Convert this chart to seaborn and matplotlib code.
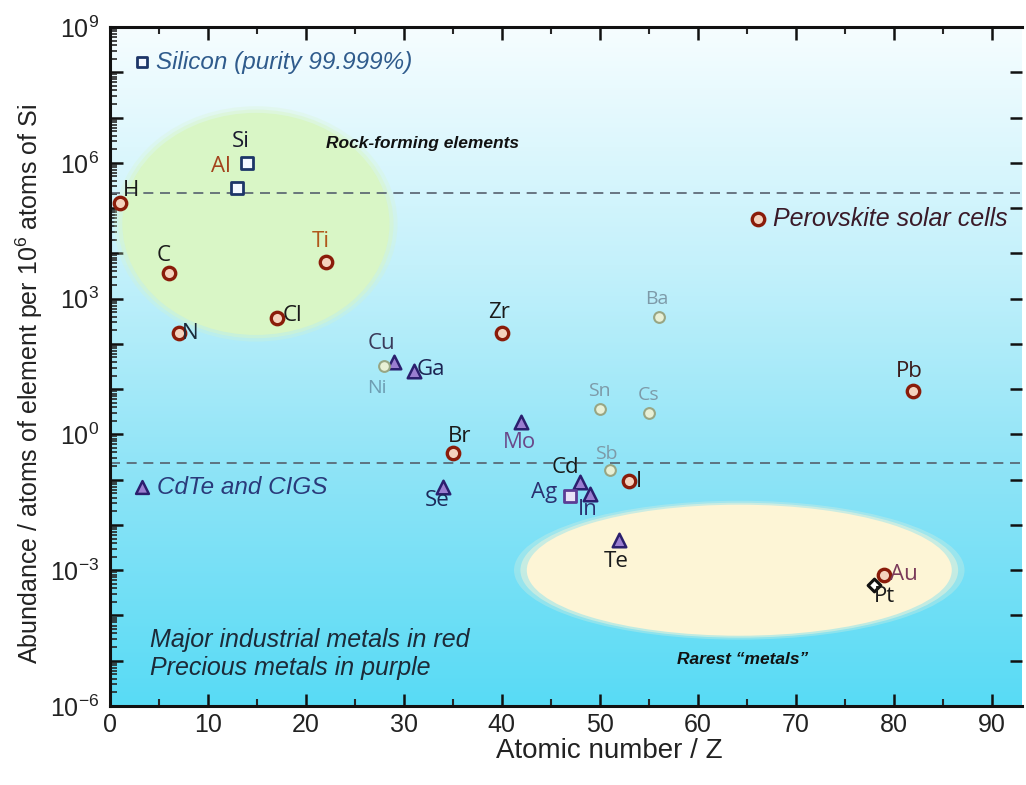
import numpy as np
import pandas as pd
import matplotlib
matplotlib.use("Agg")
import matplotlib.pyplot as plt
import seaborn as sns
from matplotlib.patches import Ellipse
from matplotlib.colors import LinearSegmentedColormap
from matplotlib.ticker import LogLocator, FuncFormatter, MultipleLocator

# ---------------- data ----------------
elements = ["H", "C", "N", "Al", "Si", "Cl", "Ti", "Ni", "Cu", "Ga", "Se", "Br", "Zr",
            "Mo", "Ag", "Cd", "In", "Sn", "Sb", "Te", "I", "Cs", "Ba", "Pt", "Au", "Pb"]
atomic_number = [1, 6, 7, 13, 14, 17, 22, 28, 29, 31, 34, 35, 40,
                 42, 47, 48, 49, 50, 51, 52, 53, 55, 56, 78, 79, 82]
abundance = [1.3e5, 3.6e3, 1.7e2, 2.8e5, 1.0e6, 3.8e2, 6.6e3, 32, 40, 25, 0.07, 0.38, 175,
             1.9, 0.043, 0.091, 0.048, 3.7, 0.16, 0.0047, 0.092, 2.9, 400, 4.7e-4, 8.0e-4, 8.9]
group = ["industrial", "industrial", "industrial", "square", "square", "industrial", "industrial",
         "faint", "pv", "pv", "pv", "industrial", "industrial",
         "pv", "ag", "pv", "pv", "faint", "faint", "pv", "industrial", "faint", "faint",
         "pt", "industrial", "industrial"]

reference_lines = [2.2e5, 0.23]

df = pd.DataFrame({"element": elements, "Z": atomic_number,
                   "abundance": abundance, "group": group})

# ---------------- styles ----------------
marker_styles = {
    "industrial": dict(marker="o", s=80, color="#f4d2bd", edgecolor="#8a1c0a", linewidth=2.4),
    "pv": dict(marker="^", s=95, color="#9a7ed0", edgecolor="#2b1f6e", linewidth=1.8),
    "square": dict(marker="s", s=80, color="#f4f8ff", edgecolor="#1d3568", linewidth=2.0),
    "ag": dict(marker="s", s=75, color="#e9e2f7", edgecolor="#5b3d95", linewidth=2.0),
    "faint": dict(marker="o", s=60, color="#e9f0d6", edgecolor="#98a684", linewidth=1.5),
    "pt": dict(marker="D", s=42, color="#ffffff", edgecolor="#111111", linewidth=2.2),
}

label_style = {  # element: (dx px, dy px, colour)
    "H": (11, 12, "#1a1a1a"), "C": (-5, 18, "#1a1a1a"), "N": (12, 0, "#1a2a3a"),
    "Al": (-16, 21, "#a3421c"), "Si": (-6, 21, "#1a1a2e"), "Cl": (16, 2, "#1a1a1a"),
    "Ti": (-5, 20, "#b0581c"), "Ni": (-7, -22, "#6e9db2"), "Cu": (-13, 18, "#3a3a5a"),
    "Ga": (17, 2, "#1c2452"), "Se": (-6, -14, "#1c2a5a"), "Br": (7, 17, "#1a1a1a"),
    "Zr": (-3, 20, "#1a1a1a"), "Mo": (-2, -21, "#6a4a8a"), "Ag": (-26, 4, "#2a3070"),
    "Cd": (-15, 14, "#1a1a1a"), "In": (-2, -15, "#2a3070"), "Sn": (0, 18, "#7d9aa8"),
    "Sb": (-3, 16, "#7d9aa8"), "Te": (-3, -22, "#1a1a1a"), "I": (10, 0, "#1a1a1a"),
    "Cs": (0, 18, "#7d9aa8"), "Ba": (-2, 18, "#7d9aa8"), "Pt": (10, -11, "#1a1a1a"),
    "Au": (20, 0, "#7a3a5a"), "Pb": (-4, 20, "#3a1a1a"),
}

sns.set_theme(style="ticks")
plt.rcParams["font.family"] = ["Liberation Sans Narrow", "Liberation Sans", "DejaVu Sans"]
plt.rcParams["mathtext.fontset"] = "custom"
plt.rcParams["mathtext.rm"] = "Liberation Sans"
plt.rcParams["mathtext.it"] = "Liberation Sans:italic"
plt.rcParams["mathtext.default"] = "regular"

fig = plt.figure(figsize=(10.26, 7.85), dpi=100)
fig.patch.set_facecolor("white")
ax = fig.add_axes([110 / 1026, 79 / 785, 912 / 1026, 679 / 785])

# background gradient
grad = np.linspace(0, 1, 256)[:, None]
cmap = LinearSegmentedColormap.from_list(
    "bg", [(0.0, "#58dbf5"), (0.35, "#8fe4f7"), (0.65, "#c4f1fb"), (1.0, "#f6fdff")])
ax.imshow(grad, aspect="auto", cmap=cmap, extent=[0, 1, 0, 1], origin="lower",
          transform=ax.transAxes, zorder=0, interpolation="bicubic")

# soft ellipses
for scale, alpha in [(1.06, 0.25), (1.03, 0.45), (1.0, 1.0)]:
    ax.add_patch(Ellipse((0.160, 0.710), 0.293 * scale, 0.327 * scale, transform=ax.transAxes,
                         facecolor="#d9f6c6", edgecolor="none", alpha=alpha, zorder=1))
    ax.add_patch(Ellipse((0.690, 0.200), 0.466 * scale, 0.193 * scale, transform=ax.transAxes,
                         facecolor="#fdf5d6", edgecolor="none", alpha=alpha, zorder=1))

# reference dashed lines
for yv in reference_lines:
    ax.axhline(yv, color="#55606e", lw=1.2, ls=(0, (6, 4)), zorder=2)

# scatter markers
for g, st in marker_styles.items():
    sub = df[df["group"] == g]
    sns.scatterplot(data=sub, x="Z", y="abundance", ax=ax, legend=False, zorder=4, **st)

ax.set_yscale("log")
ax.set_xlim(0, 93.1)
ax.set_ylim(1e-6, 1e9)

# element labels
for el, zz, ab, gg in zip(elements, atomic_number, abundance, group):
    dx, dy, col = label_style[el]
    fs = 14 if gg == "faint" else 16
    ax.annotate(el, xy=(zz, ab), xytext=(dx, dy), textcoords="offset pixels",
                ha="center", va="center", fontsize=fs, color=col, zorder=5,
                family=["Open Sans", "DejaVu Sans"])

# legend-like annotations
txt_font = ["Liberation Sans", "DejaVu Sans"]
ax.scatter([0.035], [0.948], transform=ax.transAxes, marker="s", s=60, color="#f4f8ff",
           edgecolor="#1d3568", linewidth=2.0, zorder=5, clip_on=False)
ax.text(0.0505, 0.948, "Silicon (purity 99.999%)", transform=ax.transAxes, fontsize=17.5,
        style="italic", color="#2f5b8c", va="center", ha="left", family=txt_font)

ax.scatter([0.710], [0.717], transform=ax.transAxes, marker="o", s=80, color="#f4d2bd",
           edgecolor="#8a1c0a", linewidth=2.4, zorder=5)
ax.text(0.7275, 0.717, "Perovskite solar cells", transform=ax.transAxes, fontsize=18,
        style="italic", color="#3a1a28", va="center", ha="left", family=txt_font)

ax.scatter([0.035], [0.3225], transform=ax.transAxes, marker="^", s=85, color="#9a7ed0",
           edgecolor="#2b1f6e", linewidth=1.8, zorder=5)
ax.text(0.0515, 0.3225, "CdTe and CIGS", transform=ax.transAxes, fontsize=17.5,
        style="italic", color="#2a3a7a", va="center", ha="left", family=txt_font)

ax.text(0.0438, 0.0972, "Major industrial metals in red", transform=ax.transAxes, fontsize=18,
        style="italic", color="#1c2a38", va="center", ha="left", family=txt_font)
ax.text(0.0438, 0.0560, "Precious metals in purple", transform=ax.transAxes, fontsize=18,
        style="italic", color="#1c2a38", va="center", ha="left", family=txt_font)

ax.text(0.343, 0.829, "Rock-forming elements", transform=ax.transAxes, fontsize=12.5,
        style="italic", weight="bold", color="#111111", va="center", ha="center",
        family=txt_font)
ax.text(0.694, 0.068, "Rarest \u201cmetals\u201d", transform=ax.transAxes, fontsize=12.5,
        style="italic", weight="bold", color="#111111", va="center", ha="center",
        family=txt_font)

# axes formatting
ax.xaxis.set_major_locator(MultipleLocator(10))
ax.xaxis.set_minor_locator(MultipleLocator(5))
ax.yaxis.set_major_locator(LogLocator(base=10, numticks=40))
ax.yaxis.set_minor_locator(LogLocator(base=10, subs=np.arange(2, 10), numticks=40))


def ylab(v, pos):
    e = int(round(np.log10(v)))
    return f"$10^{{{e}}}$" if e % 3 == 0 else ""


ax.yaxis.set_major_formatter(FuncFormatter(ylab))

for side in ["left", "bottom", "top"]:
    ax.spines[side].set_linewidth(2.2)
    ax.spines[side].set_color("#111111")
ax.spines["right"].set_visible(False)

ax.tick_params(axis="x", which="major", direction="in", length=9, width=1.8, top=True,
               labelsize=18, pad=5, color="#111111", labelcolor="#222222")
ax.tick_params(axis="x", which="minor", direction="in", length=5, width=1.5, top=True)
ax.tick_params(axis="y", which="major", direction="in", length=9, width=1.8, right=True,
               labelsize=18, pad=8, color="#111111", labelcolor="#222222")
ax.tick_params(axis="y", which="minor", direction="in", length=5, width=1.2, right=False)

ax.set_xlabel("Atomic number / Z", fontsize=20, color="#222222")
ax.xaxis.set_label_coords(0.548, -0.047)
ax.set_ylabel("Abundance / atoms of element per 10$^{6}$ atoms of Si", fontsize=18,
              color="#222222")
ax.yaxis.set_label_coords(-0.071, 0.474)

fig.savefig("out.png", dpi=100, facecolor="white")
